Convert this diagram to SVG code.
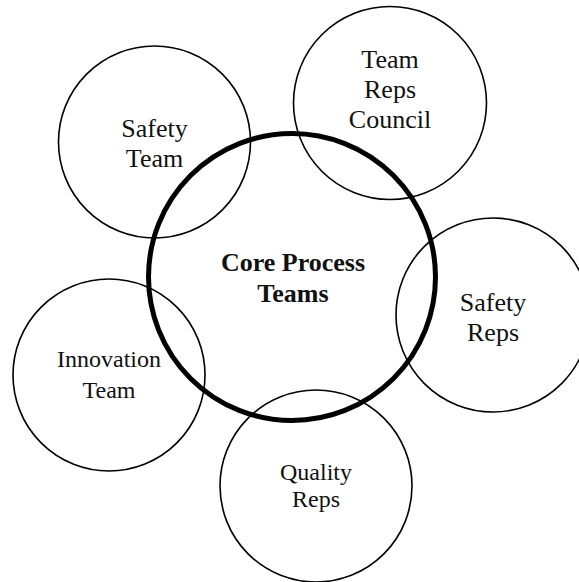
<svg xmlns="http://www.w3.org/2000/svg" width="579" height="582" viewBox="0 0 579 582">
<style>
.c{fill:none;stroke:#000;stroke-width:1.6}
.core{fill:none;stroke:#000;stroke-width:5}
.t{font-family:'Liberation Serif','Times New Roman',Tinos,'DejaVu Serif',serif;font-size:26px;fill:#111;text-anchor:middle}
.b{font-weight:bold}
.s{font-size:24px}
</style>
<rect width="579" height="582" fill="#fff"/>
<g id="connectors"></g>
<g id="safety-team">
<circle class="c" cx="154.5" cy="142" r="96"/>
<text class="t" x="154.5" y="137">Safety</text>
<text class="t" x="154.5" y="167">Team</text>
</g>
<g id="team-reps-council">
<circle class="c" cx="390" cy="103" r="96.5"/>
<text class="t" x="390" y="68">Team</text>
<text class="t" x="390" y="98">Reps</text>
<text class="t" x="390" y="128">Council</text>
</g>
<g id="safety-reps">
<circle class="c" cx="493" cy="315" r="97"/>
<text class="t" x="493" y="311">Safety</text>
<text class="t" x="493" y="341">Reps</text>
</g>
<g id="innovation-team">
<circle class="c" cx="109" cy="375" r="96"/>
<text class="t s" x="109" y="367">Innovation</text>
<text class="t s" x="109" y="398">Team</text>
</g>
<g id="quality-reps">
<circle class="c" cx="316" cy="486" r="96"/>
<text class="t s" x="316" y="480">Quality</text>
<text class="t s" x="316" y="507">Reps</text>
</g>
<g id="core-process-teams">
<circle class="core" cx="292" cy="277" r="143.5"/>
<text class="t b" x="293" y="271">Core Process</text>
<text class="t b" x="293" y="302">Teams</text>
</g>
</svg>
